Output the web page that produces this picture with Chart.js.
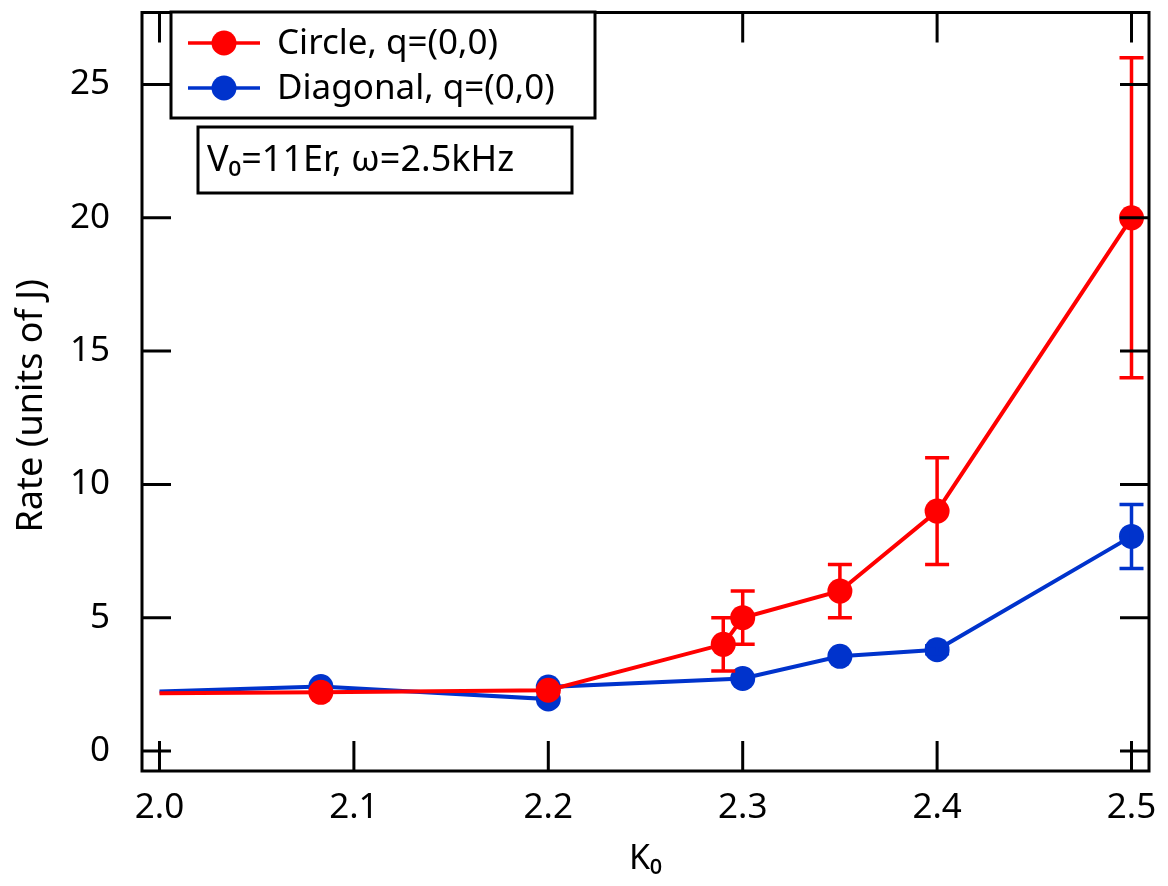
<!DOCTYPE html>
<html>
<head>
<meta charset="utf-8">
<script src="https://cdn.jsdelivr.net/npm/chart.js@4.4.1/dist/chart.umd.min.js"></script>
<style>
html, body { margin: 0; padding: 0; background: #fff; }
</style>
</head>
<body>
<canvas id="grafico" width="1168" height="886"></canvas>
<script>
// Datos
const kCircle = [2.0, 2.083, 2.2, 2.29, 2.3, 2.35, 2.4, 2.5];
const rateCircle = [2.17, 2.2, 2.28, 4.0, 5.0, 6.0, 9.0, 20.0];
const errCircle = [0, 0, 0, 1, 1, 1, 2, 6];

const kDiagonal = [2.0, 2.083, 2.2, 2.2, 2.3, 2.35, 2.4, 2.5];
const rateDiagonal = [2.23, 2.42, 1.95, 2.4, 2.72, 3.55, 3.8, 8.05];
const errDiagonal = [0, 0, 0, 0, 0, 0, 0.15, 1.2];

const xTicks = [2.0, 2.1, 2.2, 2.3, 2.4, 2.5];
const yTicks = [0, 5, 10, 15, 20, 25];
const seriesNames = ['Circle, q=(0,0)', 'Diagonal, q=(0,0)'];
const annotationText = 'V\u2080=11Er, \u03c9=2.5kHz';

const RED = '#ff0000';
const BLUE = '#0033cc';
const FONT = '"Noto Sans", sans-serif';

// Barras de error, dibujadas con cada dataset
const errorBars = {
    id: 'errorBars',
    afterDatasetDraw(chart, args) {
        const ds = chart.data.datasets[args.index];
        const err = ds.errores;
        const xs = chart.scales.x, ys = chart.scales.y;
        const ctx = chart.ctx;
        ctx.save();
        ctx.strokeStyle = ds.borderColor;
        ctx.lineWidth = 3.5;
        ds.data.forEach((p, i) => {
            if (!err[i]) return;
            const px = xs.getPixelForValue(p.x);
            const top = ys.getPixelForValue(p.y + err[i]);
            const bot = ys.getPixelForValue(p.y - err[i]);
            ctx.beginPath();
            ctx.moveTo(px, top); ctx.lineTo(px, bot);
            ctx.moveTo(px - 12, top); ctx.lineTo(px + 12, top);
            ctx.moveTo(px - 12, bot); ctx.lineTo(px + 12, bot);
            ctx.stroke();
        });
        ctx.restore();
    }
};

// Marco con marcas hacia dentro en los cuatro lados
const frame = {
    id: 'frame',
    afterDatasetsDraw(chart) {
        const {ctx, chartArea: a, scales: {x, y}} = chart;
        ctx.save();
        ctx.strokeStyle = '#000';
        ctx.lineWidth = 3;
        ctx.strokeRect(a.left, a.top, a.right - a.left, a.bottom - a.top);
        ctx.beginPath();
        xTicks.forEach(v => {
            const px = x.getPixelForValue(v);
            ctx.moveTo(px, a.bottom); ctx.lineTo(px, a.bottom - 30);
            ctx.moveTo(px, a.top); ctx.lineTo(px, a.top + 30);
        });
        yTicks.forEach(v => {
            const py = y.getPixelForValue(v);
            ctx.moveTo(a.left, py); ctx.lineTo(a.left + 29, py);
            ctx.moveTo(a.right, py); ctx.lineTo(a.right - 29, py);
        });
        ctx.stroke();
        ctx.restore();
    }
};

// Leyenda y anotación en recuadros
const boxes = {
    id: 'boxes',
    afterDraw(chart) {
        const ctx = chart.ctx;
        ctx.save();
        ctx.lineWidth = 3;
        ctx.strokeStyle = '#000';
        ctx.fillStyle = '#fff';
        ctx.fillRect(171, 12, 424, 106);
        ctx.strokeRect(171, 12, 424, 106);
        chart.data.datasets.forEach((ds, i) => {
            const cy = 43 + i * 45;
            ctx.strokeStyle = ds.borderColor;
            ctx.lineWidth = 3.5;
            ctx.beginPath();
            ctx.moveTo(188, cy); ctx.lineTo(260, cy);
            ctx.stroke();
            ctx.fillStyle = ds.borderColor;
            ctx.beginPath();
            ctx.arc(224, cy, 12.5, 0, Math.PI * 2);
            ctx.fill();
            ctx.fillStyle = '#000';
            ctx.font = '35px ' + FONT;
            ctx.textBaseline = 'middle';
            ctx.fillText(ds.label, 277, cy + 1);
        });
        ctx.strokeStyle = '#000';
        ctx.lineWidth = 3;
        ctx.fillStyle = '#fff';
        ctx.fillRect(198, 127, 374, 66);
        ctx.strokeRect(198, 127, 374, 66);
        ctx.fillStyle = '#000';
        ctx.font = '36px ' + FONT;
        ctx.textBaseline = 'middle';
        ctx.fillText(annotationText, 207, 161);
        ctx.restore();
    }
};

function puntos(xs, ys) {
    return xs.map((v, i) => ({x: v, y: ys[i]}));
}

const ctx = document.getElementById('grafico').getContext('2d');
new Chart(ctx, {
    type: 'line',
    data: {
        datasets: [{
            label: seriesNames[0],
            data: puntos(kCircle, rateCircle),
            errores: errCircle,
            borderColor: RED,
            backgroundColor: RED,
            pointBackgroundColor: RED,
            borderWidth: 4,
            pointRadius: kCircle.map((v, i) => i === 0 ? 0 : 12.5),
            pointBorderWidth: 0,
            tension: 0
        }, {
            label: seriesNames[1],
            data: puntos(kDiagonal, rateDiagonal),
            errores: errDiagonal,
            borderColor: BLUE,
            backgroundColor: BLUE,
            pointBackgroundColor: BLUE,
            borderWidth: 4,
            pointRadius: kDiagonal.map((v, i) => i === 0 ? 0 : 12.5),
            pointBorderWidth: 0,
            tension: 0
        }]
    },
    options: {
        responsive: false,
        animation: false,
        layout: { padding: { top: 7, right: 19, left: 0, bottom: 0 } },
        plugins: {
            legend: { display: false },
            tooltip: { enabled: false }
        },
        scales: {
            x: {
                type: 'linear',
                min: 1.991,
                max: 2.509,
                afterBuildTicks: s => { s.ticks = xTicks.map(v => ({value: v})); },
                afterFit: s => { s.height = 115; s.paddingLeft = 0; s.paddingRight = 0; },
                grid: { display: false },
                border: { display: false },
                ticks: {
                    color: '#000',
                    font: { family: FONT, size: 35 },
                    padding: 8,
                    maxRotation: 0,
                    autoSkip: false,
                    callback: v => Number(v).toFixed(1)
                },
                title: {
                    display: true,
                    text: 'K\u2080',
                    color: '#000',
                    font: { family: FONT, size: 34 },
                    padding: { top: 0, bottom: 6 }
                }
            },
            y: {
                min: -0.75,
                max: 27.7,
                afterBuildTicks: s => { s.ticks = yTicks.map(v => ({value: v})); },
                afterFit: s => { s.width = 142; s.paddingTop = 0; s.paddingBottom = 0; },
                grid: { display: false },
                border: { display: false },
                ticks: {
                    color: '#000',
                    font: { family: FONT, size: 35 },
                    padding: 24,
                    callback: v => String(v)
                },
                title: {
                    display: true,
                    text: 'Rate (units of J)   ',
                    color: '#000',
                    font: { family: FONT, size: 36 },
                    padding: { top: 10, bottom: 0 }
                }
            }
        }
    },
    plugins: [errorBars, frame, boxes]
});
</script>
</body>
</html>
